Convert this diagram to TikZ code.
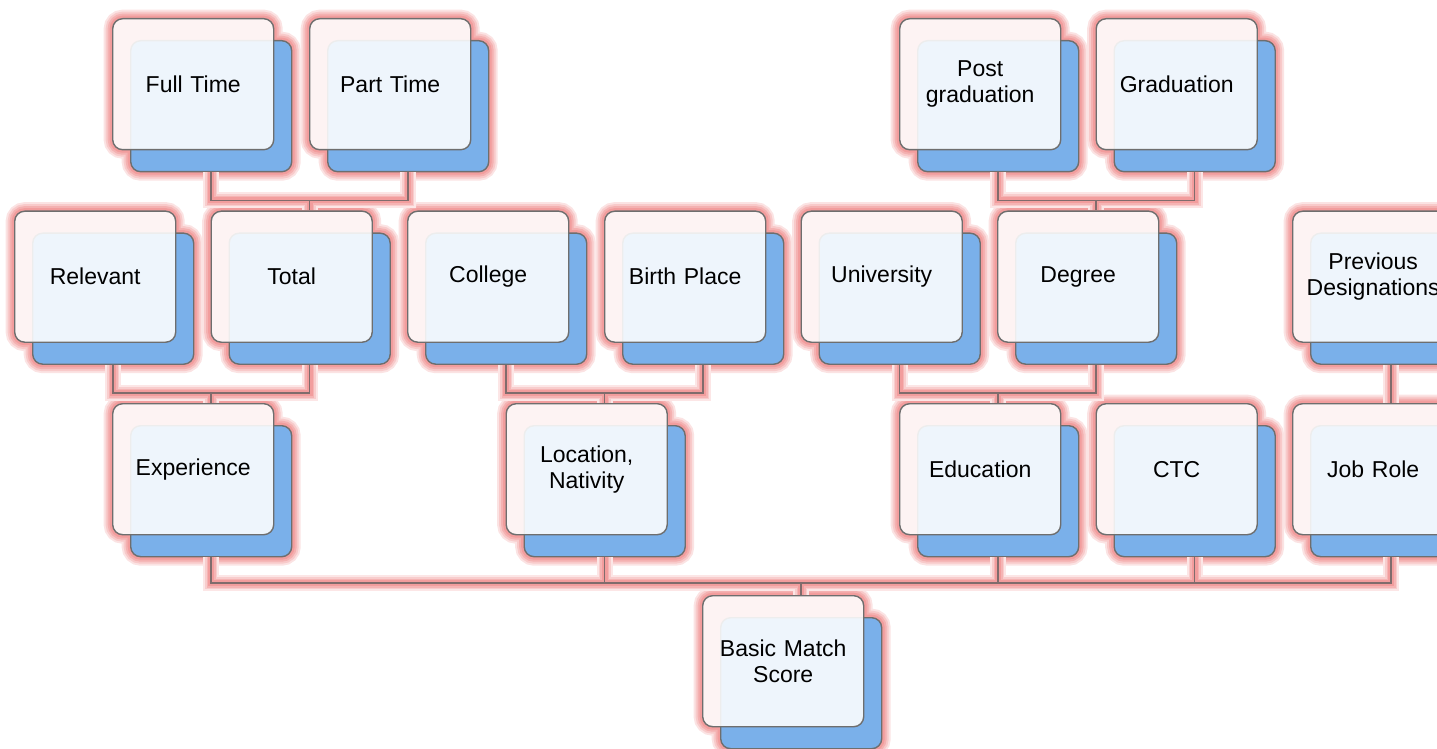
\documentclass[tikz,border=0pt]{standalone}
\usepackage{fontspec}
\setmainfont{Liberation Sans}
\usepackage{tikz}
\usetikzlibrary{shadows}
\definecolor{cardblue}{RGB}{122,176,234}
\definecolor{cardline}{RGB}{110,110,110}
\definecolor{glowred}{RGB}{238,130,130}
\definecolor{linkgray}{RGB}{128,108,108}
\tikzset{halo/.style n args={2}{
    general shadow={draw=glowred!#1, fill=glowred!#1, line width=#2, opacity=1},
    general shadow={shadow xshift=9pt, shadow yshift=-11pt, draw=glowred!#1, fill=glowred!#1, line width=#2, opacity=1}}}
\tikzstyle{card} = [rectangle, rounded corners=5pt, draw=cardline, line width=0.7pt, fill=white, fill opacity=0.88, text opacity=1, minimum width=80.5pt, minimum height=65.5pt, text width=72pt, align=center, font=\fontsize{11.5}{13}\selectfont,
    halo={22}{9pt}, halo={42}{7pt}, halo={62}{5pt}, halo={78}{3pt},
    general shadow={shadow xshift=9pt, shadow yshift=-11pt, draw=cardline, fill=cardblue, line width=0.7pt, opacity=1}]
\tikzstyle{link} = [draw=linkgray, line width=0.75pt, preaction={draw=glowred!20, line width=8pt}, preaction={draw=glowred!40, line width=6pt}, preaction={draw=glowred!60, line width=4.5pt}, preaction={draw=glowred!78, line width=3pt}]

\begin{document}
\begin{tikzpicture}[x=0.5pt, y=-0.5pt]
    \useasboundingbox (0,0) rectangle (1437,749);

    \node (ft) [card, anchor=north west] at (112,18) {Full Time};
    \node (pt) [card, anchor=north west] at (309,18) {Part Time};
    \node (pg) [card, anchor=north west] at (899,18) {Post\\graduation};
    \node (gr) [card, anchor=north west] at (1095.5,18) {Graduation};

    \node (rel) [card, anchor=north west] at (14,210.5) {Relevant};
    \node (tot) [card, anchor=north west] at (210.5,210.5) {Total};
    \node (col) [card, anchor=north west] at (407,210.5) {College};
    \node (bp) [card, anchor=north west] at (604,210.5) {Birth Place};
    \node (uni) [card, anchor=north west] at (800.5,210.5) {University};
    \node (deg) [card, anchor=north west] at (997,210.5) {Degree};
    \node (pd) [card, anchor=north west] at (1292,210.5) {Previous\\Designations};

    \node (exp) [card, anchor=north west] at (112,403) {Experience};
    \node (loc) [card, anchor=north west] at (505.5,403) {Location,\\Nativity};
    \node (edu) [card, anchor=north west] at (899,403) {Education};
    \node (ctc) [card, anchor=north west] at (1095.5,403) {CTC};
    \node (job) [card, anchor=north west] at (1292,403) {Job Role};

    \node (bms) [card, anchor=north west] at (702,595) {Basic Match\\Score};

    % bars just above each parent
    \coordinate (tot-bar) at ([xshift=9pt,yshift=5pt]tot.north);
    \coordinate (deg-bar) at ([xshift=9pt,yshift=5pt]deg.north);
    \coordinate (exp-bar) at ([xshift=9pt,yshift=5pt]exp.north);
    \coordinate (loc-bar) at ([xshift=9pt,yshift=5pt]loc.north);
    \coordinate (edu-bar) at ([xshift=9pt,yshift=5pt]edu.north);
    \coordinate (bms-bar) at ([xshift=9pt,yshift=6pt]bms.north);

    \draw[link] ([xshift=9pt,yshift=-11pt]ft.south) |- (tot-bar) ([xshift=9pt,yshift=-11pt]pt.south) |- (tot-bar) -- ([xshift=9pt]tot.north);
    \draw[link] ([xshift=9pt,yshift=-11pt]pg.south) |- (deg-bar) ([xshift=9pt,yshift=-11pt]gr.south) |- (deg-bar) -- ([xshift=9pt]deg.north);

    \draw[link] ([xshift=9pt,yshift=-11pt]rel.south) |- (exp-bar) ([xshift=9pt,yshift=-11pt]tot.south) |- (exp-bar) -- ([xshift=9pt]exp.north);
    \draw[link] ([xshift=9pt,yshift=-11pt]col.south) |- (loc-bar) ([xshift=9pt,yshift=-11pt]bp.south) |- (loc-bar) -- ([xshift=9pt]loc.north);
    \draw[link] ([xshift=9pt,yshift=-11pt]uni.south) |- (edu-bar) ([xshift=9pt,yshift=-11pt]deg.south) |- (edu-bar) -- ([xshift=9pt]edu.north);
    \draw[link] ([xshift=9pt,yshift=-11pt]pd.south) -- ([xshift=9pt]job.north);

    \draw[link] ([xshift=9pt,yshift=-11pt]exp.south) |- (bms-bar) ([xshift=9pt,yshift=-11pt]loc.south) |- (bms-bar)
        ([xshift=9pt,yshift=-11pt]edu.south) |- (bms-bar) ([xshift=9pt,yshift=-11pt]ctc.south) |- (bms-bar)
        ([xshift=9pt,yshift=-11pt]job.south) |- (bms-bar) -- ([xshift=9pt]bms.north);

\end{tikzpicture}
\end{document}
